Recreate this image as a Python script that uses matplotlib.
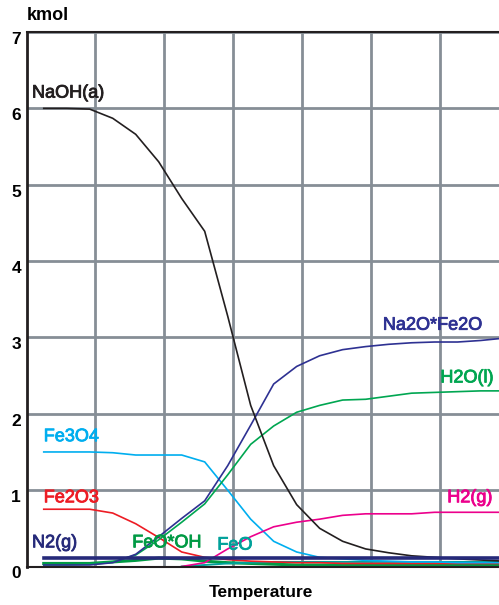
import numpy as np
import matplotlib
matplotlib.use("Agg")
import matplotlib.pyplot as plt
import matplotlib.patheffects as pe

plt.rcParams["font.family"] = ["Liberation Sans Narrow", "Liberation Sans", "DejaVu Sans"]

# temperature steps (arbitrary units, grid every 60)
temperature = [15, 35, 55, 75, 95, 115, 135, 155, 175, 195, 215,
               235, 255, 275, 295, 315, 335, 355, 375, 395, 415]

naoh = [6.00, 6.00, 5.99, 5.87, 5.66, 5.30, 4.82, 4.39, 3.28, 2.11, 1.32,
        0.81, 0.50, 0.33, 0.23, 0.18, 0.14, 0.12, 0.10, 0.085, 0.07]
na2o_fe2o = [0.02, 0.02, 0.02, 0.05, 0.16, 0.39, 0.63, 0.86, 1.32, 1.85, 2.39,
             2.62, 2.76, 2.84, 2.88, 2.91, 2.93, 2.94, 2.94, 2.96, 2.99]
h2o = [0.02, 0.02, 0.03, 0.06, 0.15, 0.35, 0.58, 0.82, 1.20, 1.60, 1.84,
       2.02, 2.11, 2.18, 2.19, 2.23, 2.27, 2.28, 2.29, 2.30, 2.30]
fe3o4 = [1.50, 1.50, 1.50, 1.49, 1.46, 1.46, 1.46, 1.37, 1.00, 0.62, 0.33,
         0.19, 0.12, 0.10, 0.08, 0.07, 0.06, 0.06, 0.05, 0.05, 0.05]
fe2o3 = [0.75, 0.75, 0.75, 0.70, 0.56, 0.38, 0.19, 0.12, 0.09, 0.07, 0.06,
         0.05, 0.05, 0.04, 0.04, 0.04, 0.04, 0.04, 0.04, 0.04, 0.04]
n2 = [0.11] * 21
feo_oh = [0.04, 0.04, 0.04, 0.06, 0.08, 0.11, 0.10, 0.07, 0.05, 0.04, 0.03,
          0.02, 0.02, 0.02, 0.02, 0.02, 0.02, 0.02, 0.02, 0.02, 0.02]
feo = [np.nan, np.nan, np.nan, np.nan, np.nan, np.nan, 0.00, 0.02, 0.04, 0.05, 0.06,
       0.06, 0.06, 0.06, 0.06, 0.06, 0.06, 0.06, 0.06, 0.06, 0.06]
h2 = [np.nan, np.nan, np.nan, np.nan, np.nan, np.nan, 0.00, 0.05, 0.23, 0.39, 0.52,
      0.58, 0.62, 0.67, 0.69, 0.69, 0.69, 0.71, 0.71, 0.71, 0.71]

series = [
    ("FeO*OH", feo_oh, "#009a44", 2.2),
    ("FeO", feo, "#00a19a", 1.4),
    ("Fe2O3", fe2o3, "#ed1c24", 1.2),
    ("Fe3O4", fe3o4, "#00aeef", 1.2),
    ("H2(g)", h2, "#ec008c", 1.2),
    ("H2O(l)", h2o, "#00a651", 1.2),
    ("Na2O*Fe2O", na2o_fe2o, "#2e3192", 1.2),
    ("NaOH(a)", naoh, "#231f20", 1.2),
    ("N2(g)", n2, "#262a7a", 2.6),
]

# label anchor points (data coords)
labels = {
    "NaOH(a)": (4.8, 6.20),
    "Na2O*Fe2O": (310, 3.16),
    "H2O(l)": (360, 2.47),
    "Fe3O4": (15, 1.70),
    "Fe2O3": (15, 0.90),
    "N2(g)": (4.8, 0.31),
    "FeO*OH": (92, 0.31),
    "FeO": (166, 0.28),
    "H2(g)": (366, 0.90),
}

fig = plt.figure(figsize=(4.99, 6.05), dpi=100)
ax = fig.add_axes([26.5 / 499, 38.5 / 605, 1 - 26.5 / 499, 534.5 / 605])

for name, vals, color, lw in series:
    ax.plot(temperature, vals, color=color, lw=lw, solid_joinstyle="miter")
    tx, ty = labels[name]
    t = ax.text(tx, ty, name, color=color, fontsize=13, va="center", ha="left")
    t.set_path_effects([pe.withStroke(linewidth=0.6, foreground=color)])

ax.set_xlim(0, 411)
ax.set_ylim(0, 7)
ax.set_xticks([60, 120, 180, 240, 300, 360])
ax.set_yticks(range(8))
ax.set_xticklabels([])
ax.set_yticklabels([str(v) for v in range(8)], fontsize=12.5, fontweight="bold", va="top")
ax.tick_params(axis="both", length=0)
ax.tick_params(axis="y", pad=4)
ax.grid(True, color="#868e96", lw=2)
ax.set_axisbelow(True)

ax.spines["right"].set_visible(False)
ax.spines["left"].set_linewidth(2)
ax.spines["bottom"].set_linewidth(1.5)
ax.spines["top"].set_linewidth(1.5)
for s in ("left", "bottom", "top"):
    ax.spines[s].set_color("#231f20")

fig.text(27 / 499, 1 - 16 / 605, "kmol", fontsize=13, fontweight="bold", va="center", ha="left")
fig.text(261 / 499, 1 - 593 / 605, "Temperature", fontsize=12.5, fontweight="bold", va="center", ha="center")

fig.savefig("out.png", dpi=100)
